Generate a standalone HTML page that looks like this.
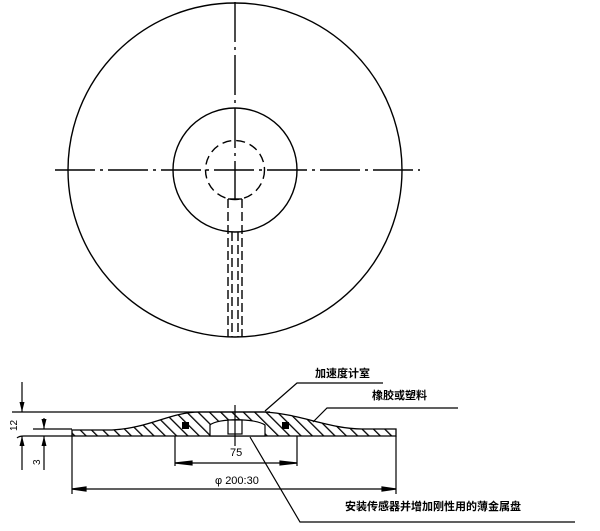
<!DOCTYPE html>
<html><head><meta charset="utf-8"><style>
html,body{margin:0;padding:0;background:#fff;}
svg{display:block}
text{font-family:"Liberation Sans","Noto Sans CJK SC",sans-serif;fill:#000;}
</style></head><body>
<svg width="600" height="531" viewBox="0 0 600 531" xmlns="http://www.w3.org/2000/svg">
<defs>
<pattern id="h" width="8" height="8" patternUnits="userSpaceOnUse" patternTransform="rotate(-45)">
<rect width="8" height="8" fill="#fff"/><line x1="0" y1="0" x2="0" y2="8" stroke="#000" stroke-width="2.6"/>
</pattern>
<marker id="a" markerWidth="10" markerHeight="6" refX="10" refY="3" orient="auto" markerUnits="userSpaceOnUse"><path d="M0,0.5 L10,3 L0,5.5 Z" fill="#000"/></marker>
</defs>
<g fill="none" stroke="#000" stroke-width="1.4">
<circle cx="235" cy="170" r="167"/>
<circle cx="235" cy="170" r="62"/>
<circle cx="235" cy="170" r="29.5" stroke-dasharray="9,5"/>
<line x1="55" y1="170" x2="420" y2="170" stroke-dasharray="40,5,3,5"/>
<line x1="235" y1="2" x2="235" y2="199" stroke-dasharray="40,5,3,5"/>
<line x1="228" y1="199" x2="242" y2="199"/>
<line x1="228" y1="199" x2="228" y2="337" stroke-dasharray="9,4"/>
<line x1="242" y1="199" x2="242" y2="337" stroke-dasharray="9,4"/>
<line x1="232" y1="232" x2="232" y2="337" stroke-dasharray="9,4"/>
<line x1="238" y1="232" x2="238" y2="337" stroke-dasharray="9,4"/>
</g>
<!-- section -->
<path d="M72,430 L112,430 C150,428 170,412 200,412 L265,412 C300,414 330,429 362,429 L396,429 L396,436 L72,436 Z" fill="url(#h)" stroke="#000" stroke-width="1.3"/>
<path d="M210,436 L210,425 C218,418 255,418 265,425 L265,436 Z" fill="#fff" stroke="#000" stroke-width="1.2"/>
<rect x="228" y="420" width="14" height="14" fill="#fff" stroke="#000" stroke-width="1.2"/>
<rect x="182" y="422" width="7" height="7" fill="#000"/>
<rect x="282" y="422" width="7" height="7" fill="#000"/>
<g stroke="#000" stroke-width="1.2" fill="none">
<line x1="12" y1="412" x2="270" y2="412"/>
<line x1="33" y1="429" x2="72" y2="429"/>
<path d="M17,438 Q19,436 24,436 L72,436"/>
<line x1="235" y1="405" x2="235" y2="446"/>
<line x1="22" y1="382" x2="22" y2="412" marker-end="url(#a)"/>
<line x1="22" y1="470" x2="22" y2="436" marker-end="url(#a)"/>
<line x1="44" y1="418" x2="44" y2="429" marker-end="url(#a)"/>
<line x1="44" y1="470" x2="44" y2="436" marker-end="url(#a)"/>
<line x1="72" y1="436" x2="72" y2="494"/>
<line x1="396" y1="436" x2="396" y2="494"/>
<line x1="175" y1="436" x2="175" y2="466"/>
<line x1="297" y1="436" x2="297" y2="466"/>
<line x1="72" y1="489" x2="396" y2="489"/>
<line x1="175" y1="463" x2="297" y2="463"/>
<path d="M175,463 L192,461 L192,465 Z M297,463 L280,461 L280,465 Z M72,489 L86,487 L86,491 Z M396,489 L382,487 L382,491 Z" fill="#000"/>
<polyline points="383,383 297,383 265,411"/>
<polyline points="458,408 327,408 313,422"/>
<polyline points="575,522 300,522 250,437"/>
</g>
<text x="6" y="428" font-size="10" transform="rotate(-90 13 424)">12</text>
<text x="31" y="464" font-size="10" transform="rotate(-90 36 460)">3</text>
<text x="230" y="456" font-size="11">75</text>
<text x="215" y="484" font-size="11">φ 200:30</text>
<text x="315" y="377" font-size="11" font-weight="bold">加速度计室</text>
<text x="372" y="399" font-size="11" font-weight="bold">橡胶或塑料</text>
<text x="345" y="510" font-size="11" font-weight="bold">安装传感器并增加刚性用的薄金属盘</text>
</svg>
</body></html>
